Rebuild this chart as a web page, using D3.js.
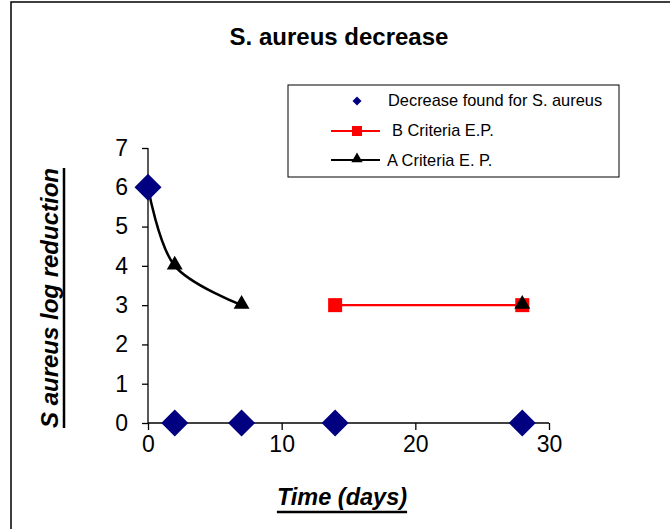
<!DOCTYPE html>
<html><head><meta charset="utf-8">
<script src="https://cdn.jsdelivr.net/npm/d3@7"></script>
<style>body{margin:0;background:#fff}svg{display:block;font-family:Arial,"Liberation Sans",sans-serif}</style>
</head><body><svg id="c" width="670" height="529"></svg>
<script>
const days = [0, 2, 7, 14, 28];
const decrease = [6, 0, 0, 0, 0];
const bCriteria = [null, null, null, 3, 3];
const aCriteria = [6, 4, 3, null, 3];
const xTicks = [0, 10, 20, 30];
const yTicks = [0, 1, 2, 3, 4, 5, 6, 7];
const seriesNames = ["Decrease found for S. aureus", "B Criteria E.P.", "A Criteria E. P."];

const svg = d3.select("#c");
// outer frame
svg.append("rect").attr("x", 11).attr("y", 2).attr("width", 700).attr("height", 600)
  .attr("fill", "none").attr("stroke", "#000").attr("stroke-width", 1.5);

const x = d3.scaleLinear().domain([0, 30]).range([148, 549]);
const y = d3.scaleLinear().domain([0, 7]).range([423, 148]);

// title
svg.append("text").attr("x", 339).attr("y", 45).attr("text-anchor", "middle")
  .attr("font-size", 24).attr("font-weight", "bold").text("S. aureus decrease");

// axes
const gx = svg.append("g").attr("transform", "translate(0,423)")
  .call(d3.axisBottom(x).tickValues(xTicks).tickFormat(d3.format("d")).tickSize(7).tickPadding(6));
const gy = svg.append("g").attr("transform", "translate(148,0)")
  .call(d3.axisLeft(y).tickValues(yTicks).tickFormat(d3.format("d")).tickSize(6).tickPadding(14));
[gx, gy].forEach(g => {
  g.select(".domain").attr("stroke", "#000").attr("stroke-width", 1.3);
  g.selectAll(".tick line").attr("stroke", "#000").attr("stroke-width", 1.3);
  g.selectAll("text").attr("font-size", 23).attr("fill", "#000")
   .attr("font-family", "Arial, 'Liberation Sans', sans-serif");
});
gx.select(".domain").attr("d", "M148,0H549");
gy.select(".domain").attr("d", "M0,423V148");

// axis titles with underline
const xt = svg.append("text").attr("x", 342).attr("y", 505).attr("text-anchor", "middle")
  .attr("font-size", 23.5).attr("font-weight", "bold").attr("font-style", "italic").text("Time (days)");
const xw = xt.node().getComputedTextLength();
svg.append("line").attr("x1", 342 - xw / 2).attr("x2", 342 + xw / 2).attr("y1", 512).attr("y2", 512)
  .attr("stroke", "#000").attr("stroke-width", 2.5);

const yt = svg.append("text").attr("transform", "translate(58,298) rotate(-90)").attr("text-anchor", "middle")
  .attr("font-size", 24).attr("font-weight", "bold").attr("font-style", "italic").text("S aureus log reduction");
const yw = yt.node().getComputedTextLength();
svg.append("line").attr("x1", 64).attr("x2", 64).attr("y1", 298 - yw / 2).attr("y2", 298 + yw / 2)
  .attr("stroke", "#000").attr("stroke-width", 2.5);

const pts = arr => days.map((d, i) => ({ d, v: arr[i] }));

// B series
const lineB = d3.line().defined(p => p.v != null).x(p => x(p.d)).y(p => y(p.v));
svg.append("path").attr("d", lineB(pts(bCriteria))).attr("fill", "none").attr("stroke", "#ff0000").attr("stroke-width", 2.2);
svg.selectAll(".sq").data(pts(bCriteria).filter(p => p.v != null)).enter().append("rect")
  .attr("x", p => x(p.d) - 7).attr("y", p => y(p.v) - 7).attr("width", 14).attr("height", 14).attr("fill", "#ff0000");

// A series
const lineA = d3.line().defined(p => p.v != null).x(p => x(p.d)).y(p => y(p.v)).curve(d3.curveCatmullRom.alpha(0.5));
svg.append("path").attr("d", lineA(pts(aCriteria))).attr("fill", "none").attr("stroke", "#000").attr("stroke-width", 2.5);
const tri = d3.symbol().type(d3.symbolTriangle).size(110);
svg.selectAll(".tri").data(pts(aCriteria).filter(p => p.v != null)).enter().append("path")
  .attr("d", tri).attr("transform", p => `translate(${x(p.d)},${y(p.v) - 1})`).attr("fill", "#000");

// Decrease series (diamonds)
const dia = s => `M0,${-s}L${s},0L0,${s}L${-s},0Z`;
svg.selectAll(".dia").data(pts(decrease)).enter().append("path")
  .attr("d", dia(13.5)).attr("transform", p => `translate(${x(p.d)},${y(p.v)})`).attr("fill", "#000080");

// legend
const lg = svg.append("g");
lg.append("rect").attr("x", 288).attr("y", 85).attr("width", 331).attr("height", 92)
  .attr("fill", "#fff").attr("stroke", "#000").attr("stroke-width", 1);
lg.append("path").attr("d", dia(4.5)).attr("transform", "translate(357,101)").attr("fill", "#000080");
lg.append("line").attr("x1", 331).attr("x2", 380).attr("y1", 131).attr("y2", 131).attr("stroke", "#ff0000").attr("stroke-width", 2.2);
lg.append("rect").attr("x", 352).attr("y", 126).attr("width", 10).attr("height", 10).attr("fill", "#ff0000");
lg.append("line").attr("x1", 331).attr("x2", 380).attr("y1", 160).attr("y2", 160).attr("stroke", "#000").attr("stroke-width", 2.2);
lg.append("path").attr("d", d3.symbol().type(d3.symbolTriangle).size(55)).attr("transform", "translate(357,159)").attr("fill", "#000");
const lx = [388, 392, 387], ly = [106, 136, 166];
seriesNames.forEach((n, i) => lg.append("text").attr("x", lx[i]).attr("y", ly[i]).attr("font-size", 16.4).attr("fill", "#000").text(n));
</script></body></html>
